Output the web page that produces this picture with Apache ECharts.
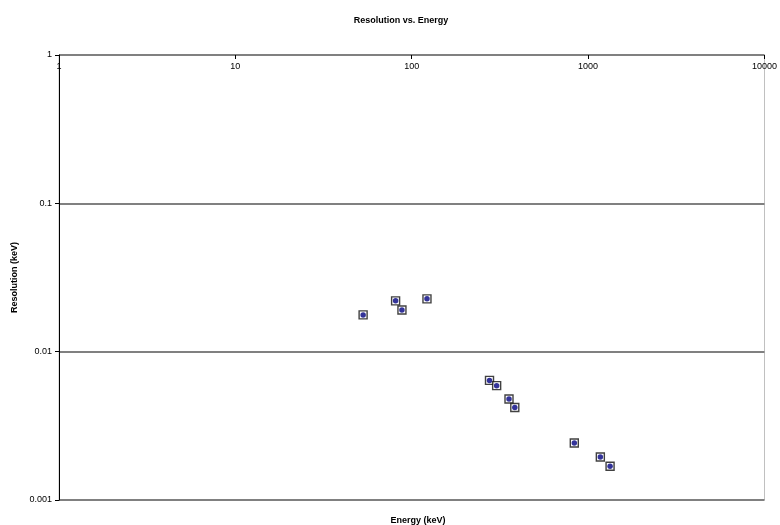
<!DOCTYPE html>
<html>
<head>
<meta charset="utf-8">
<script src="https://cdn.jsdelivr.net/npm/echarts@6/dist/echarts.min.js"></script>
<style>html,body{margin:0;padding:0;background:#fff}#c{width:780px;height:525px}</style>
</head>
<body>
<div id="c"></div>
<script>
var energy = [53, 81, 88, 122, 276, 303, 356, 384, 835, 1173, 1332];
var resolution = [0.0177, 0.0220, 0.0191, 0.0227, 0.0064, 0.0059, 0.0048, 0.0042, 0.00242, 0.00195, 0.00169];
var xTicks = ['1', '10', '100', '1000', '10000'];
var yTicks = ['0.001', '0.01', '0.1', '1'];

var pts = energy.map(function (e, i) { return [e, resolution[i]]; });
var font = 'Liberation Sans, Arial, sans-serif';

var chart = echarts.init(document.getElementById('c'));
chart.setOption({
  animation: false,
  backgroundColor: '#fff',
  title: [
    { text: 'Resolution vs. Energy', left: 396, top: 11, textAlign: 'center',
      textStyle: { fontFamily: font, fontSize: 9, fontWeight: 'bold', color: '#000' } },
    { text: 'Energy (keV)', left: 413, top: 511, textAlign: 'center',
      textStyle: { fontFamily: font, fontSize: 9, fontWeight: 'bold', color: '#000' } }
  ],
  grid: { left: 59, right: 12, top: 55, bottom: 25, show: true, borderColor: '#c0c0c0', borderWidth: 1, backgroundColor: 'transparent' },
  xAxis: {
    type: 'log', logBase: 10, min: 1, max: 10000, position: 'top',
    axisLine: { show: false },
    axisTick: { show: true, inside: true, length: 4, lineStyle: { color: '#000' } },
    axisLabel: { inside: true, margin: 7, fontFamily: font, fontSize: 9, color: '#000',
      formatter: function (v) { var k = Math.round(Math.log10(v)); return xTicks[k]; } },
    splitLine: { show: false }
  },
  yAxis: {
    type: 'log', logBase: 10, min: 0.001, max: 1,
    name: 'Resolution (keV)', nameLocation: 'middle', nameGap: 36, nameRotate: 90,
    nameTextStyle: { fontFamily: font, fontSize: 9, fontWeight: 'bold', color: '#000' },
    axisLine: { show: true, lineStyle: { color: '#000', width: 1 } },
    axisTick: { show: true, length: 4, lineStyle: { color: '#000' } },
    axisLabel: { margin: 7, fontFamily: font, fontSize: 9, color: '#000',
      formatter: function (v) { var k = Math.round(Math.log10(v)) + 3; return yTicks[k]; } },
    splitLine: { show: true, lineStyle: { color: '#808080', width: 2 } }
  },
  series: [
    { type: 'scatter', data: pts, symbol: 'rect', symbolSize: 8,
      itemStyle: { color: '#fff', borderColor: '#111', borderWidth: 1.4 }, z: 2 },
    { type: 'scatter', data: pts, symbol: 'circle', symbolSize: 5.5,
      itemStyle: { color: '#000080' }, z: 3 }
  ]
});
</script>
</body>
</html>
